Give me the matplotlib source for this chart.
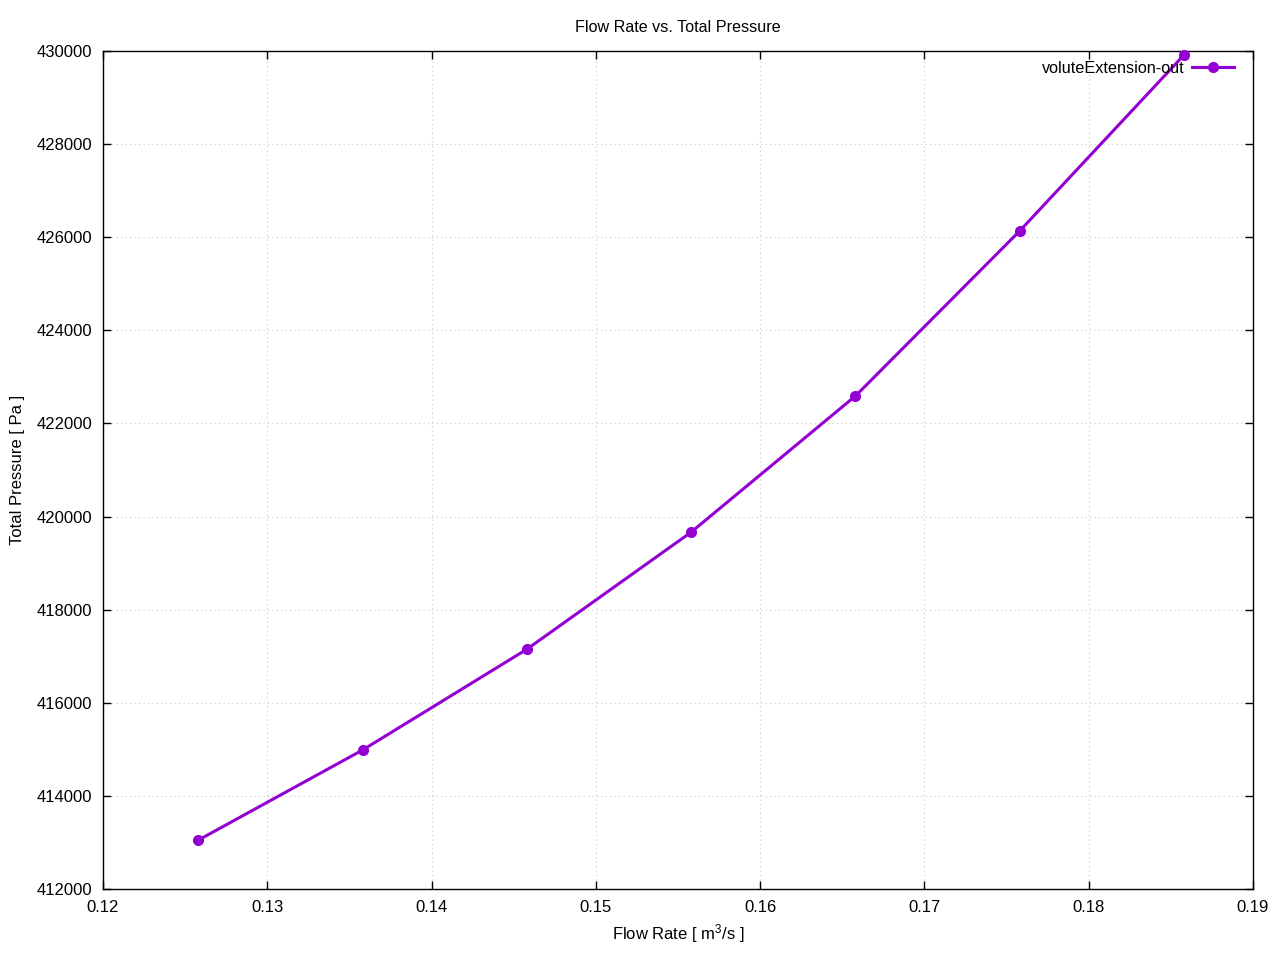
import matplotlib
matplotlib.use("Agg")
from matplotlib import pyplot as plt

# data
flow_rate = [0.1258, 0.1358, 0.1458, 0.1558, 0.1658, 0.1758, 0.1858]
total_pressure = [413050, 414985, 417150, 419665, 422590, 426135, 429915]
series_label = "voluteExtension-out"

plt.rcParams['font.family'] = ['Liberation Sans', 'DejaVu Sans']
plt.rcParams['font.size'] = 12
plt.rcParams['mathtext.fontset'] = 'custom'
plt.rcParams['mathtext.rm'] = 'Liberation Sans'
plt.rcParams['mathtext.it'] = 'Liberation Sans'

fig = plt.figure(figsize=(12.8, 9.6), dpi=100, facecolor='w')
ax = fig.add_axes([103/1280, 71/960, 1150/1280, 838/960])

ax.plot(flow_rate, total_pressure, color='#9400d3', linewidth=2.2,
        marker='o', markersize=7, label=series_label, clip_on=False, zorder=3)

ax.set_xlim(0.12, 0.19)
ax.set_ylim(412000, 430000)
ax.set_xticks([0.12 + 0.01*i for i in range(8)])
ax.set_xticklabels(["0.12", "0.13", "0.14", "0.15", "0.16", "0.17", "0.18", "0.19"])
ax.set_yticks(range(412000, 430001, 2000))

ax.grid(True, color='#c8c8c8', linestyle=(0, (1, 3)), linewidth=0.8)
ax.tick_params(direction='in', length=6, width=1, top=True, right=True, pad=8)
for s in ax.spines.values():
    s.set_linewidth(1)

ax.set_title("Flow Rate vs. Total Pressure", fontsize=11.6, pad=14)
ax.set_xlabel("Flow Rate [ m$^3$/s ]", labelpad=5)
ax.set_ylabel("Total Pressure [ Pa ]", labelpad=8)

ax.legend(loc='upper right', bbox_to_anchor=(1 - 9/1150, 1), frameon=False,
          markerfirst=False, handlelength=2.6, handletextpad=0.45,
          borderaxespad=0.2, fontsize=11.7)

plt.savefig("out.png", dpi=100)
